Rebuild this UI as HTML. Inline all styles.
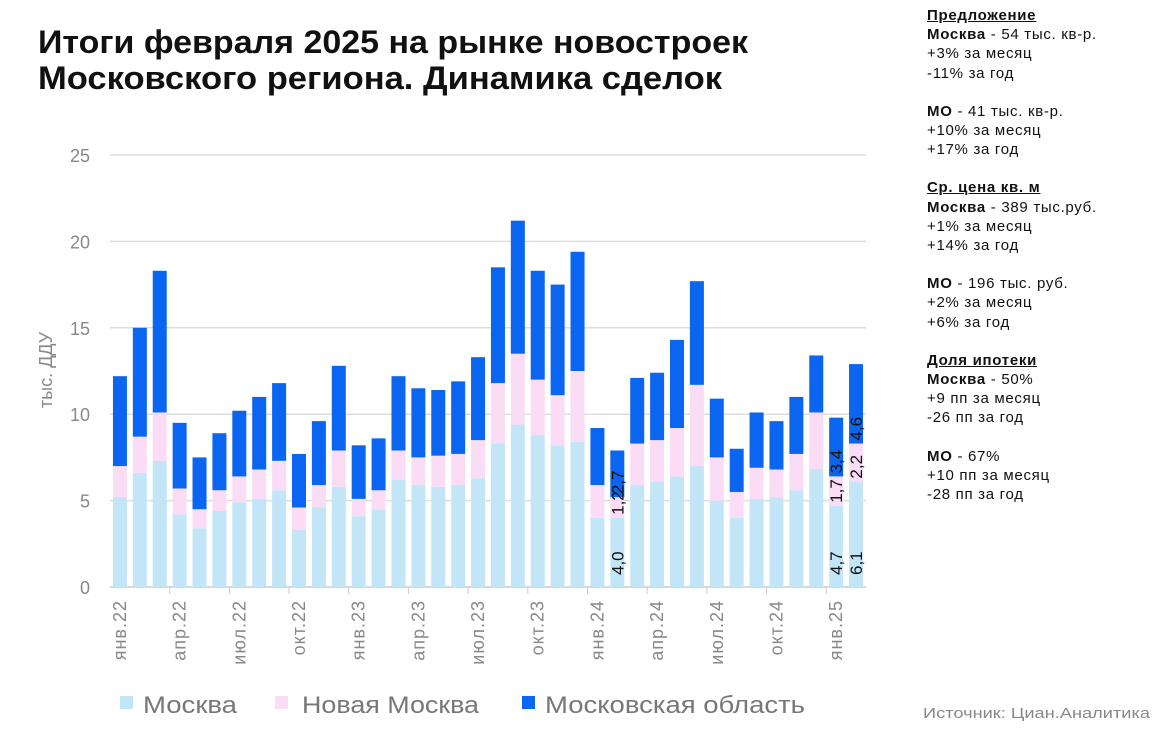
<!DOCTYPE html>
<html><head><meta charset="utf-8"><style>
body{margin:0;background:#fff;width:1170px;height:750px;overflow:hidden;font-family:"Liberation Sans","Noto Sans CJK SC",sans-serif}
#side{position:absolute;left:927px;top:6px;font-size:15px;line-height:19.2px;color:#111;letter-spacing:0.7px}
#side b.h{text-decoration:underline}
#side p{margin:0 0 19px 0}
</style></head><body>
<svg width="1170" height="750" style="position:absolute;left:0;top:0">
<text x="38" y="53" font-size="32" font-weight="bold" fill="#111" textLength="710" lengthAdjust="spacingAndGlyphs">Итоги февраля 2025 на рынке новостроек</text>
<text x="38" y="89" font-size="32" font-weight="bold" fill="#111" textLength="684" lengthAdjust="spacingAndGlyphs">Московского региона. Динамика сделок</text>
<g id="grid"></g><g id="bars"></g><g id="xl"></g><g id="vl"></g>
<text transform="translate(52,370) rotate(-90)" text-anchor="middle" font-size="18" fill="#888">тыс. ДДУ</text>
<g>
<rect x="120" y="696" width="13" height="13" fill="#c2e6f7"/>
<text x="143" y="713" font-size="24" fill="#777" textLength="94" lengthAdjust="spacingAndGlyphs">Москва</text>
<rect x="275" y="696" width="13" height="13" fill="#fadcf5"/>
<text x="302" y="713" font-size="24" fill="#777" textLength="177" lengthAdjust="spacingAndGlyphs">Новая Москва</text>
<rect x="522" y="696" width="13" height="13" fill="#0a66f0"/>
<text x="545" y="713" font-size="24" fill="#777" textLength="260" lengthAdjust="spacingAndGlyphs">Московская область</text>
</g>
<text x="923" y="718" font-size="15" fill="#888" textLength="227" lengthAdjust="spacingAndGlyphs">Источник: Циан.Аналитика</text>
</svg>
<div id="side">
<p><b class="h">Предложение</b><br><b>Москва</b> - 54 тыс. кв-р.<br>+3% за месяц<br>-11% за год</p>
<p><b>МО</b> - 41 тыс. кв-р.<br>+10% за месяц<br>+17% за год</p>
<p><b class="h">Ср. цена кв. м</b><br><b>Москва</b> - 389 тыс.руб.<br>+1% за месяц<br>+14% за год</p>
<p><b>МО</b> - 196 тыс. руб.<br>+2% за месяц<br>+6% за год</p>
<p><b class="h">Доля ипотеки</b><br><b>Москва</b> - 50%<br>+9 пп за месяц<br>-26 пп за год</p>
<p><b>МО</b> - 67%<br>+10 пп за месяц<br>-28 пп за год</p>
</div>
<script>
const moscow=[5.2,6.6,7.3,4.2,3.4,4.4,4.9,5.1,5.6,3.3,4.6,5.8,4.1,4.5,6.2,5.9,5.8,5.9,6.3,8.3,9.4,8.8,8.2,8.4,4.0,4.0,5.9,6.1,6.4,7.0,5.0,4.0,5.1,5.2,5.6,6.8,4.7,6.1];
const newMoscow=[1.8,2.1,2.8,1.5,1.1,1.2,1.5,1.7,1.7,1.3,1.3,2.1,1.0,1.1,1.7,1.6,1.8,1.8,2.2,3.5,4.1,3.2,2.9,4.1,1.9,1.2,2.4,2.4,2.8,4.7,2.5,1.5,1.8,1.6,2.1,3.3,1.7,2.2];
const mo=[5.2,6.3,8.2,3.8,3.0,3.3,3.8,4.2,4.5,3.1,3.7,4.9,3.1,3.0,4.3,4.0,3.8,4.2,4.8,6.7,7.7,6.3,6.4,6.9,3.3,2.7,3.8,3.9,5.1,6.0,3.4,2.5,3.2,2.8,3.3,3.3,3.4,4.6];
const xLabels=["янв.22","апр.22","июл.22","окт.22","янв.23","апр.23","июл.23","окт.23","янв.24","апр.24","июл.24","окт.24","янв.25"];
const yTicks=[0,5,10,15,20,25];
const labeled=[25,36,37];
const NS="http://www.w3.org/2000/svg";
const x0=110,x1=866,y0=587,ppu=17.28,n=moscow.length,step=(x1-x0)/n,bw=14;
const Y=v=>y0-v*ppu, X=i=>x0+i*step+(step-bw)/2;
const fmt=v=>v.toFixed(1).replace('.',',');
function mk(tag,a,parent){const e=document.createElementNS(NS,tag);for(const k in a)e.setAttribute(k,a[k]);parent.appendChild(e);return e;}
const grid=document.getElementById('grid');
yTicks.forEach(t=>{
 if(t>0){const l=mk('line',{x1:x0,x2:x1,y1:Y(t),y2:Y(t),stroke:'#ddd','stroke-width':1.5},grid);
 
 }
 const tx=mk('text',{x:90,y:Y(t)+7,'text-anchor':'end','font-size':18,fill:'#888'},grid);tx.textContent=t;
 
 
});
const ax=mk('line',{x1:x0,x2:x1,y1:y0,y2:y0,stroke:'#ccc','stroke-width':1.5},grid);


const bars=document.getElementById('bars');
const cols=['#c2e6f7','#fadcf5','#0a66f0'];
for(let i=0;i<n;i++){
 const vals=[moscow[i],newMoscow[i],mo[i]];let c=0;
 vals.forEach((v,s)=>{const r=mk('rect',{x:X(i),y:Y(c+v),width:bw,height:v*ppu,fill:cols[s]},bars);
  
  c+=v;});
}
const xl=document.getElementById('xl');
xLabels.forEach((lab,k)=>{const i=k*3;const cx=X(i)+bw/2+6;
 const t=mk('text',{transform:`translate(${cx},${y0+13}) rotate(-90)`,'text-anchor':'end','font-size':18,'letter-spacing':'1px',fill:'#888'},xl);t.textContent=lab;
 
 
 if(k>0){const tk=mk('line',{x1:x0+i*step,x2:x0+i*step,y1:y0,y2:y0+7,stroke:'#ccc'},xl);
 
 }
});
const vl=document.getElementById('vl');
labeled.forEach(i=>{const vals=[moscow[i],newMoscow[i],mo[i]];let c=0;
 vals.forEach((v,s)=>{const cx=X(i)+bw/2+6;
  const anchorY = s===0 ? y0-12 : Y(c)-3;
  const t=mk('text',{transform:`translate(${cx},${anchorY}) rotate(-90)`,'font-size':17,fill:'#111'},vl);t.textContent=fmt(v);
  
  c+=v;});
});
</script>
</body></html>
